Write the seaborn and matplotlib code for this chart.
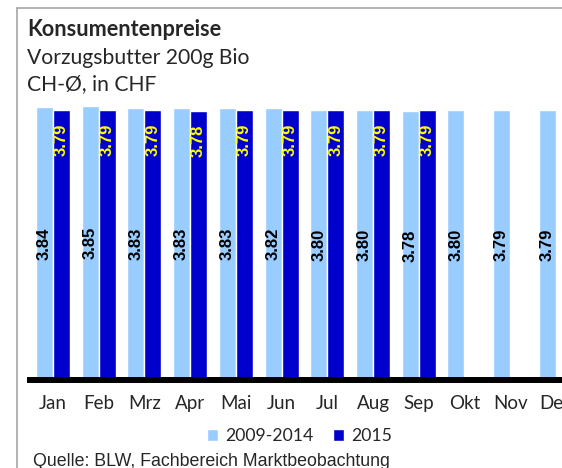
import numpy as np
import pandas as pd
import matplotlib
matplotlib.use("Agg")
import matplotlib.pyplot as plt
from matplotlib.lines import Line2D
import seaborn as sns

# Monthly consumer prices, organic premium butter 200 g (CHF)
months = ["Jan", "Feb", "Mrz", "Apr", "Mai", "Jun", "Jul", "Aug", "Sep", "Okt", "Nov", "Dez"]
avg_2009_2014 = [3.84, 3.85, 3.83, 3.83, 3.83, 3.82, 3.80, 3.80, 3.78, 3.80, 3.79, 3.79]
year_2015 = [3.79, 3.79, 3.79, 3.78, 3.79, 3.79, 3.79, 3.79, 3.79, np.nan, np.nan, np.nan]
series_names = ["2009-2014", "2015"]
series_colors = ["#99CCFF", "#0000CC"]

df = pd.DataFrame({
    "Monat": months * 2,
    "Preis": avg_2009_2014 + year_2015,
    "Periode": [series_names[0]] * 12 + [series_names[1]] * 12,
})

sns.set_style("white")
plt.rcParams["font.family"] = ["Lato", "DejaVu Sans"]

W, H = 562, 468
fig = plt.figure(figsize=(W / 100, H / 100), dpi=100)

def fx(px):
    return px / W

def fy(py):
    return 1 - py / H

# plot area: baseline at y=380 px, 12 month slots of ~45.7 px starting at x=30
ax = fig.add_axes([fx(30.1), fy(380), fx(548.6), 320 / H])
sns.barplot(data=df, x="Monat", y="Preis", hue="Periode", order=months,
            hue_order=series_names, palette=series_colors, saturation=1,
            width=0.744, errorbar=None, ax=ax, legend=True)

ax.set_xlim(-0.5, 11.5)
ax.set_ylim(0, 4.5)
ax.set_xlabel("")
ax.set_ylabel("")
ax.set_yticks([])
for side in ["top", "right", "left"]:
    ax.spines[side].set_visible(False)
ax.spines["bottom"].set_color("black")
ax.spines["bottom"].set_linewidth(4.3)
ax.tick_params(axis="x", length=0, pad=11, labelsize=13.5)

# value labels
light_bars, dark_bars = ax.containers[0], ax.containers[1]
for bar in light_bars:
    h = bar.get_height()
    if np.isnan(h) or h == 0:
        continue
    ax.text(bar.get_x() + bar.get_width() / 2, h / 2, f"{h:.2f}",
            rotation=90, ha="center", va="center", color="black",
            fontsize=12, fontweight="bold", family="Liberation Sans")
for bar in dark_bars:
    h = bar.get_height()
    if np.isnan(h) or h == 0:
        continue
    ax.annotate(f"{h:.2f}", (bar.get_x() + bar.get_width() / 2, h),
                xytext=(0, -9.5), textcoords="offset points",
                rotation=90, ha="center", va="top", color="#FFFF00",
                fontsize=12, fontweight="bold", family="Liberation Sans")

# legend below the month labels
handles, labels = ax.get_legend_handles_labels()
ax.get_legend().remove()
fig.legend(handles, labels, loc="center", bbox_to_anchor=(fx(299.5), fy(436)),
           ncol=2, frameon=False, fontsize=12.7, handlelength=0.65,
           handleheight=0.65, handletextpad=0.4, columnspacing=1.1,
           borderpad=0, borderaxespad=0)

# titles
fig.text(fx(27), fy(36), "Konsumentenpreise", fontsize=15.6, fontweight="bold",
         va="baseline", ha="left")
fig.text(fx(27), fy(63.5), "Vorzugsbutter 200g Bio", fontsize=15.2,
         va="baseline", ha="left")
fig.text(fx(27), fy(90.5), "CH-Ø, in CHF", fontsize=15.2,
         va="baseline", ha="left")
fig.text(fx(33), fy(465.5), "Quelle: BLW, Fachbereich Marktbeobachtung",
         fontsize=12.8, family="Liberation Sans", va="baseline", ha="left")

# outer frame of the chart
fig.add_artist(Line2D([fx(17), fx(17)], [fy(8), fy(470)], color="#A6A6A6", lw=1.2))
fig.add_artist(Line2D([fx(17), fx(570)], [fy(8), fy(8)], color="#A6A6A6", lw=1.2))

fig.savefig("out.png", dpi=100)
